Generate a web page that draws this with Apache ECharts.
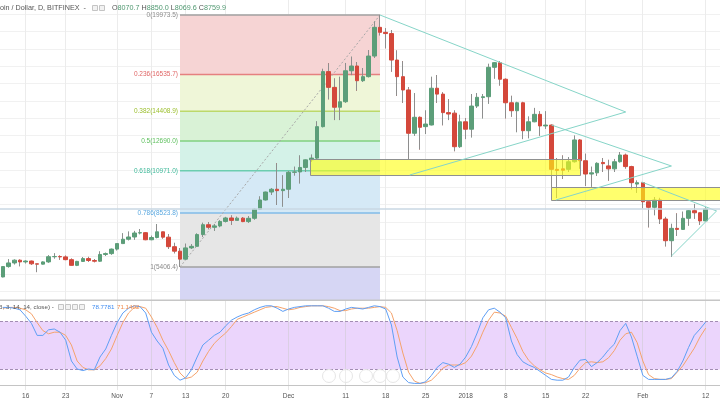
<!DOCTYPE html>
<html><head><meta charset="utf-8">
<script src="https://cdn.jsdelivr.net/npm/echarts@6/dist/echarts.min.js"></script>
<style>html,body{margin:0;padding:0;background:#fff}#c{width:720px;height:400px}</style>
</head><body><div id="c"></div>
<script>
// ---------- DATA ----------
const startDate = [2017, 9, 12];   // 12 Oct 2017 (month 0-based)
const dayCount = 126;              // categories on the time axis (to 14 Feb 2018)
// daily candles [open, close, low, high], 12 Oct 2017 .. 12 Feb 2018
const ohlc = [
 [4830,5430,4820,5450],[5430,5640,5380,5850],[5640,5800,5560,5840],[5800,5700,5450,5840],[5700,5750,5620,5790],
 [5750,5590,5530,5770],[5590,5570,5110,5600],[5570,5700,5550,5730],[5700,6000,5650,6080],[6000,6010,5900,6190],
 [6010,5990,5830,6070],[5990,5830,5800,6060],[5830,5500,5480,5890],[5500,5730,5460,5760],[5730,5890,5700,5980],
 [5890,5780,5710,5990],[5780,5740,5680,5860],[5740,6130,5700,6300],[6130,6180,6050,6230],[6180,6440,6120,6470],
 [6440,6760,6370,6770],[6760,7010,6760,7350],[7010,7140,6950,7450],[7140,7370,6990,7490],[7370,7390,7300,7600],
 [7390,6980,6960,7420],[6980,7110,6960,7210],[7110,7440,7070,7880],[7440,7130,7050,7450],[7130,6580,6450,7300],
 [6580,6320,6200,6800],[6320,5860,5406.4,6490],[5860,6510,5830,6750],[6510,6600,6450,6720],[6600,7280,6590,7340],
 [7280,7850,7140,7960],[7850,7700,7590,8000],[7700,7780,7500,7880],[7780,8040,7710,8100],[8040,8240,7990,8300],
 [8240,8100,7850,8380],[8100,8230,8100,8310],[8230,8030,8000,8290],[8030,8220,7960,8340],[8220,8750,8150,8780],
 [8750,9280,8720,9480],[9280,9740,9250,9750],[9740,9900,9580,9960],[9900,9820,8990,11400],[9820,9900,8900,10700],
 [9900,10880,9400,10950],[10880,10900,10700,11200],[10900,11160,10240,11850],[11160,11600,10900,11620],[11600,11700,11500,11900],
 [11700,13520,11650,13820],[13520,16700,13480,16860],[16700,15790,15100,17180],[15790,14640,13900,16300],[14640,14960,13900,16400],
 [14960,16750,14900,17200],[16750,17025,16500,17560],[17025,16175,15600,17250],[16175,16410,16100,16900],[16410,17600,16370,17950],
 [17600,19260,17500,19590],[19260,18970,18800,19973.5],[18970,18900,18050,19200],[18900,17370,16700,19100],[17370,16410,15300,17920],
 [16410,15640,14900,17300],[15640,13135,11600,15800],[13135,14060,13000,15450],[14060,13480,12200,14100],[13520,13670,13100,14450],
 [13615,15740,13600,16400],[15740,15400,14900,16500],[15400,14330,13600,15500],[14330,14250,13900,15100],[14300,12360,12100,14450],
 [12360,13800,12300,14200],[13800,13370,12800,14000],[13370,14710,12900,15400],[14710,15215,14600,15450],[15200,15250,14000,15400],
 [15250,16950,14850,17150],[16950,17220,16300,17250],[17220,16260,15900,17300],[16260,14900,14000,16300],[14900,14440,14100,15300],
 [14440,14900,13200,14950],[14900,13285,12800,14950],[13285,13800,12850,14100],[13800,14230,13800,14600],[14230,13560,13000,14400],
 [13560,13610,13400,14400],[13610,11050,10000,13650],[11050,10990,9400,11700],[11080,11000,10500,11850],[11050,11490,10900,11750],
 [11490,12750,11450,13000],[12750,11550,11100,12800],[11550,10780,10100,11950],[10780,10850,10050,11200],[10850,11400,10680,11450],
 [11450,11380,10900,11700],[11250,11080,10400,11600],[11080,11490,10900,11650],[11490,11880,11450,12050],[11880,11210,11100,11950],
 [11210,10280,9900,11250],[10200,10280,9700,10400],[10280,9180,8800,10300],[9180,8855,7700,9200],[8855,9280,8400,9450],
 [9280,8180,7900,9400],[8180,6925,6600,8300],[6925,7640,6000,7900],[7640,7580,7200,8500],[7580,8220,7550,8600],
 [8220,8660,7800,8700],[8660,8540,8200,9050],[8540,8070,7850,8560],[8070.7,8759.9,8069.6,8850]
];
// Stoch RSI %K (blue) and %D (orange)
const stochK = [
 97,97,96,94,86,77,62,62,69,70, 66,56,30,20,18,20,19,35,45,62,
 78,90,96,99,98,90,66,55,46,25, 12,6,9,19,35,50,56,62,66,74,
 81,85,88,90,94,97,99,99,96,92, 95,97,98,99,99,99,99,96,92,92,
 95,97,96,95,97,99,98,95,75,35, 10,3,2,2,4,12,22,28,26,22,
 26,35,48,65,84,94,96,91,84,55, 38,29,25,22,17,12,7,6,6,10,
 22,31,32,23,28,35,44,51,68,77, 60,36,12,7,7,7,7,9,17,30,
 47,62,70,78.7781
];
const stochD = [
 96,97,97,96,94,89,78,68,64,66, 66,62,50,30,22,19,19,24,33,45,
 62,78,90,97,98,96,85,72,56,43, 28,15,8,10,16,30,42,52,59,65,
 73,82,85,88,91,94,97,98,98,96, 94,95,97,98,99,99,99,98,96,93,
 93,95,96,96,96,97,98,97,90,68, 40,16,5,2,3,6,13,21,25,25,
 25,28,36,49,66,81,91,90,86,72, 58,42,31,24,19,15,13,10,8,7,
 12,21,28,29,28,29,34,43,56,64, 66,53,30,13,8,7,7,8,16,24,
 35,46,60,71.1402
];
// time-axis tick labels
const tickLabels = {
 '2017-10-16':'16','2017-10-23':'23','2017-11-01':'Nov','2017-11-07':'7','2017-11-13':'13','2017-11-20':'20',
 '2017-12-01':'Dec','2017-12-11':'11','2017-12-18':'18','2017-12-25':'25','2018-01-01':'2018','2018-01-08':'8',
 '2018-01-15':'15','2018-01-22':'22','2018-02-01':'Feb','2018-02-12':'12'
};
const gridPrices = [4000,5000,6000,7000,8000,9000,10000,11000,12000,13000,14000,15000,16000,17000,18000,19000,20000];
// Fibonacci retracement (Nov 12 low -> Dec 17 high)
const fibStartIdx = 31, fibEndIdx = 66;
const fibHigh = 19973.5, fibLow = 5406.4;
const fibLevels = [0, 0.236, 0.382, 0.5, 0.618, 0.786, 1, 1.618];
// zones [startIdx, endIdx, lowPrice, highPrice]
const zones = [[53.8, 101.1, 10724, 11632], [96, 130, 9221, 9990]];
// triangles: polyline vertices [idx, price]
const triangles = [
 [[66, 19973], [109, 14366], [71.2, 10724]],
 [[96, 13614], [117, 11244], [96.8, 9279]],
 [[111.8, 10319], [124.9, 8643], [117, 6041]]
];
const bandLow = 20, bandHigh = 80;

// ---------- LAYOUT / STYLE ----------
const PLOT_LEFT = -1.84, PLOT_W = 723.5;
const PRICE_MAX = 20840.6, PRICE_MIN = 3497.6;
const FONT = 'Liberation Sans, Arial, sans-serif';
const HFS = 7.2; // header font size
const SFS = 6.2; // stoch header font size
const upColor = '#5c9e79', downColor = '#d4483b', wickColor = '#8e8e8e';
const fibLineColors = ['#a0a0a0','#e58080','#bcd86a','#80d080','#6ccdb0','#80bbe8','#a0a0a0'];
const fibLabelColors = ['#8a8a8a','#e06666','#9cbf2e','#5cbf5c','#3fb99a','#5aa8e0','#8a8a8a'];
const fibZoneColors = ['#f6d4d4','#eff6d8','#d9f2d6','#d4f2e8','#d5e9f6','#e6e6e6','#d6d6f4'];

const dates = [];
{ const d0 = Date.UTC(startDate[0], startDate[1], startDate[2]);
  for (let i = 0; i < dayCount; i++) dates.push(new Date(d0 + i * 86400000).toISOString().slice(0, 10)); }
const tickIdx = dates.map((d, i) => tickLabels[d] !== undefined ? i : -1).filter(i => i >= 0);
const last = ohlc[ohlc.length - 1];

function crisp(v) { return Math.round(v - 0.5) + 0.5; }
function wickX(x) { const d = Math.round(x * 2); return (d + 1) % 2 === 0 ? d / 2 : (d - 1) / 2; }
function iconBox(x, y) { return { type: 'rect', x: x, y: y, shape: { width: 5, height: 5 }, style: { fill: '#f2f2f2', stroke: '#c4c4c4', lineWidth: 1 }, z: 50 }; }
function navCircle(x, y) { return { type: 'circle', x: x, y: y, shape: { r: 6.5 }, style: { fill: 'rgba(255,255,255,0.3)', stroke: '#e6e6e6', lineWidth: 1 }, z: 49 }; }

const chart = echarts.init(document.getElementById('c'));
const option = {
  animation: false,
  backgroundColor: '#ffffff',
  textStyle: { fontFamily: FONT },
  grid: [
    { left: PLOT_LEFT, top: 0, width: PLOT_W, height: 300 },
    { left: PLOT_LEFT, top: 301, width: PLOT_W, height: 89 }
  ],
  xAxis: [
    { type: 'category', gridIndex: 0, data: dates, boundaryGap: true, show: false },
    { type: 'category', gridIndex: 1, data: dates, boundaryGap: true,
      axisLine: { lineStyle: { color: '#c4c4c4' } }, axisTick: { show: false }, splitLine: { show: false },
      axisLabel: { interval: (i, v) => tickLabels[v] !== undefined, formatter: v => tickLabels[v] || '',
                   fontSize: 6.5, color: '#555', margin: 3, fontFamily: FONT } },
    { type: 'value', gridIndex: 0, min: -0.5, max: dayCount - 0.5, show: false },
    { type: 'value', gridIndex: 1, min: -0.5, max: dayCount - 0.5, show: false }
  ],
  yAxis: [
    { type: 'value', gridIndex: 0, min: PRICE_MIN, max: PRICE_MAX, show: false },
    { type: 'value', gridIndex: 1, min: -6.25, max: 105, show: false }
  ],
  series: [
    { // horizontal price grid
      type: 'custom', xAxisIndex: 2, yAxisIndex: 0, z: 0, silent: true, clip: true,
      data: gridPrices.map(p => [0, p]),
      renderItem(params, api) {
        const cs = params.coordSys; const y = crisp(api.coord([0, api.value(1)])[1]);
        return { type: 'line', shape: { x1: cs.x, y1: y, x2: cs.x + cs.width, y2: y }, style: { stroke: '#f1f1f1', lineWidth: 1 } };
      }
    },
    { // vertical grid main pane
      type: 'custom', xAxisIndex: 2, yAxisIndex: 0, z: 0, silent: true, clip: true,
      data: tickIdx.map(i => [i, PRICE_MIN]),
      renderItem(params, api) {
        const cs = params.coordSys; const x = crisp(api.coord([api.value(0), PRICE_MIN])[0]);
        return { type: 'line', shape: { x1: x, y1: cs.y, x2: x, y2: cs.y + cs.height }, style: { stroke: '#ececec', lineWidth: 1 } };
      }
    },
    { // stoch band + vertical grid
      type: 'custom', xAxisIndex: 3, yAxisIndex: 1, z: 0, silent: true, clip: true,
      data: [[0, bandLow]],
      renderItem(params, api) {
        const cs = params.coordSys;
        const yH = Math.round(api.coord([0, bandHigh])[1]) + 0.5, yL = Math.round(api.coord([0, bandLow])[1]) + 0.5;
        const ch = [{ type: 'rect', shape: { x: cs.x, y: yH, width: cs.width, height: yL - yH }, style: { fill: '#ebd5fc' } }];
        tickIdx.forEach(i => { const x = crisp(api.coord([i, 0])[0]);
          ch.push({ type: 'line', shape: { x1: x, y1: cs.y, x2: x, y2: cs.y + cs.height }, style: { stroke: 'rgba(200,200,200,0.45)', lineWidth: 1 } }); });
        [yH, yL].forEach(y => ch.push({ type: 'line', shape: { x1: cs.x, y1: y, x2: cs.x + cs.width, y2: y },
          style: { stroke: '#a38db3', lineWidth: 1, lineDash: [3, 2] } }));
        return { type: 'group', children: ch };
      }
    },
    { // fibonacci retracement
      type: 'custom', xAxisIndex: 2, yAxisIndex: 0, z: 1, silent: true, clip: true,
      data: [[fibStartIdx, fibLow]],
      renderItem(params, api) {
        const x0 = api.coord([fibStartIdx, 0])[0], x1 = api.coord([fibEndIdx, 0])[0];
        const range = fibHigh - fibLow; const ch = [];
        const yOf = l => api.coord([0, fibHigh - l * range])[1];
        for (let k = 0; k < fibLevels.length - 1; k++) {
          const yA = yOf(fibLevels[k]), yB = yOf(fibLevels[k + 1]);
          ch.push({ type: 'rect', shape: { x: x0, y: yA, width: x1 - x0, height: yB - yA }, style: { fill: fibZoneColors[k] } });
        }
        for (let k = 0; k < fibLevels.length - 1; k++) {
          const y = yOf(fibLevels[k]);
          ch.push({ type: 'line', shape: { x1: x0, y1: y, x2: x1, y2: y }, style: { stroke: fibLineColors[k], lineWidth: 1.5 } });
          const val = (fibHigh - fibLevels[k] * range).toFixed(1);
          ch.push({ type: 'text', style: { text: fibLevels[k] + '(' + val + ')', x: x0 - 2, y: y, align: 'right', verticalAlign: 'middle',
            fill: fibLabelColors[k], fontSize: 6.5, fontFamily: FONT } });
        }
        const pA = api.coord([fibStartIdx, fibLow]), pB = api.coord([fibEndIdx, fibHigh]);
        ch.push({ type: 'line', shape: { x1: pA[0], y1: pA[1], x2: pB[0], y2: pB[1] }, style: { stroke: '#a8a8a8', lineWidth: 1, lineDash: [2, 2] } });
        return { type: 'group', children: ch };
      }
    },
    { // candles
      type: 'candlestick', xAxisIndex: 0, yAxisIndex: 0, z: 2, barWidth: 4,
      data: ohlc,
      itemStyle: { color: upColor, color0: downColor, borderColor: upColor, borderColor0: downColor, borderWidth: 1 }
    },
    { // grey wicks over the coloured ones
      type: 'custom', xAxisIndex: 2, yAxisIndex: 0, z: 3, silent: true, clip: true,
      data: ohlc.map((d, i) => [i, d[0], d[1], d[2], d[3]]),
      renderItem(params, api) {
        const i = api.value(0), o = api.value(1), c = api.value(2), l = api.value(3), h = api.value(4);
        const x = wickX(api.coord([i, h])[0]);
        const yH = api.coord([i, h])[1], yL = api.coord([i, l])[1];
        const yT = api.coord([i, Math.max(o, c)])[1], yB = api.coord([i, Math.min(o, c)])[1];
        return { type: 'group', children: [
          { type: 'line', shape: { x1: x, y1: yH, x2: x, y2: yT - 0.5 }, style: { stroke: wickColor, lineWidth: 1 } },
          { type: 'line', shape: { x1: x, y1: yB + 0.5, x2: x, y2: yL }, style: { stroke: wickColor, lineWidth: 1 } }
        ] };
      }
    },
    { // yellow zones
      type: 'custom', xAxisIndex: 2, yAxisIndex: 0, z: 4, silent: true, clip: true,
      data: zones.map(z => [z[0], z[2]]),
      renderItem(params, api) {
        const z = zones[params.dataIndex];
        const a = api.coord([z[0], z[3]]), b = api.coord([z[1], z[2]]);
        return { type: 'rect', shape: { x: crisp(a[0]), y: crisp(a[1]), width: Math.round(b[0] - a[0]), height: Math.round(b[1] - a[1]) },
          style: { fill: 'rgba(255,255,20,0.62)', stroke: '#8f9090', lineWidth: 1 } };
      }
    },
    { // triangles
      type: 'custom', xAxisIndex: 2, yAxisIndex: 0, z: 5, silent: true, clip: true,
      data: triangles.map(t => t[0]),
      renderItem(params, api) {
        const pts = triangles[params.dataIndex].map(p => api.coord(p));
        return { type: 'polyline', shape: { points: pts }, style: { stroke: '#86d5c8', lineWidth: 1, fill: null } };
      }
    },
    { // last price line
      type: 'custom', xAxisIndex: 2, yAxisIndex: 0, z: 5, silent: true, clip: true,
      data: [[0, last[1]]],
      renderItem(params, api) {
        const cs = params.coordSys; const y = api.coord([0, api.value(1)])[1];
        return { type: 'line', shape: { x1: cs.x, y1: y, x2: cs.x + cs.width, y2: y }, style: { stroke: '#c9d7e3', lineWidth: 1.5 } };
      }
    },
    { type: 'line', xAxisIndex: 1, yAxisIndex: 1, z: 3, data: stochD, showSymbol: false, silent: true,
      lineStyle: { color: '#f5a36c', width: 1 } },
    { type: 'line', xAxisIndex: 1, yAxisIndex: 1, z: 4, data: stochK, showSymbol: false, silent: true,
      lineStyle: { color: '#5f9ff5', width: 1 } }
  ],
  graphic: [
    { type: 'rect', left: 0, top: 299.5, shape: { width: 720, height: 1.5 }, style: { fill: '#c6c6c6' }, z: 50 },
    { type: 'text', x: -12, y: 8, z: 50, style: { text: 'Bitcoin / Dollar, D, BITFINEX  -', fill: '#555', fontSize: HFS, fontFamily: FONT, verticalAlign: 'middle' } },
    iconBox(92.5, 5.5), iconBox(99.5, 5.5),
    { type: 'text', x: 112, y: 8, z: 50, style: {
        text: '{l|O}{v|' + last[0].toFixed(1) + '} {l|H}{v|' + last[3].toFixed(1) + '} {l|L}{v|' + last[2].toFixed(1) + '} {l|C}{v|' + last[1].toFixed(1) + '}',
        verticalAlign: 'middle', fontSize: HFS, fontFamily: FONT,
        rich: { l: { fill: '#555', fontSize: HFS, fontFamily: FONT }, v: { fill: '#4f9870', fontSize: HFS, fontFamily: FONT } } } },
    { type: 'text', x: -3, y: 307, z: 50, style: { text: '(3, 3, 14, 14, close) -', fill: '#555', fontSize: SFS, fontFamily: FONT, verticalAlign: 'middle' } },
    iconBox(58.5, 304.5), iconBox(65.5, 304.5), iconBox(72.5, 304.5), iconBox(79.5, 304.5),
    { type: 'text', x: 92, y: 307, z: 50, style: { text: stochK[stochK.length - 1].toFixed(4), fill: '#3d8af0', fontSize: SFS, fontFamily: FONT, verticalAlign: 'middle' } },
    { type: 'text', x: 117, y: 307, z: 50, style: { text: stochD[stochD.length - 1].toFixed(4), fill: '#f08a4a', fontSize: SFS, fontFamily: FONT, verticalAlign: 'middle' } },
    navCircle(329, 376), navCircle(346, 376), navCircle(366, 376), navCircle(380, 376), navCircle(393, 376)
  ]
};
chart.setOption(option);
</script>
</body></html>
